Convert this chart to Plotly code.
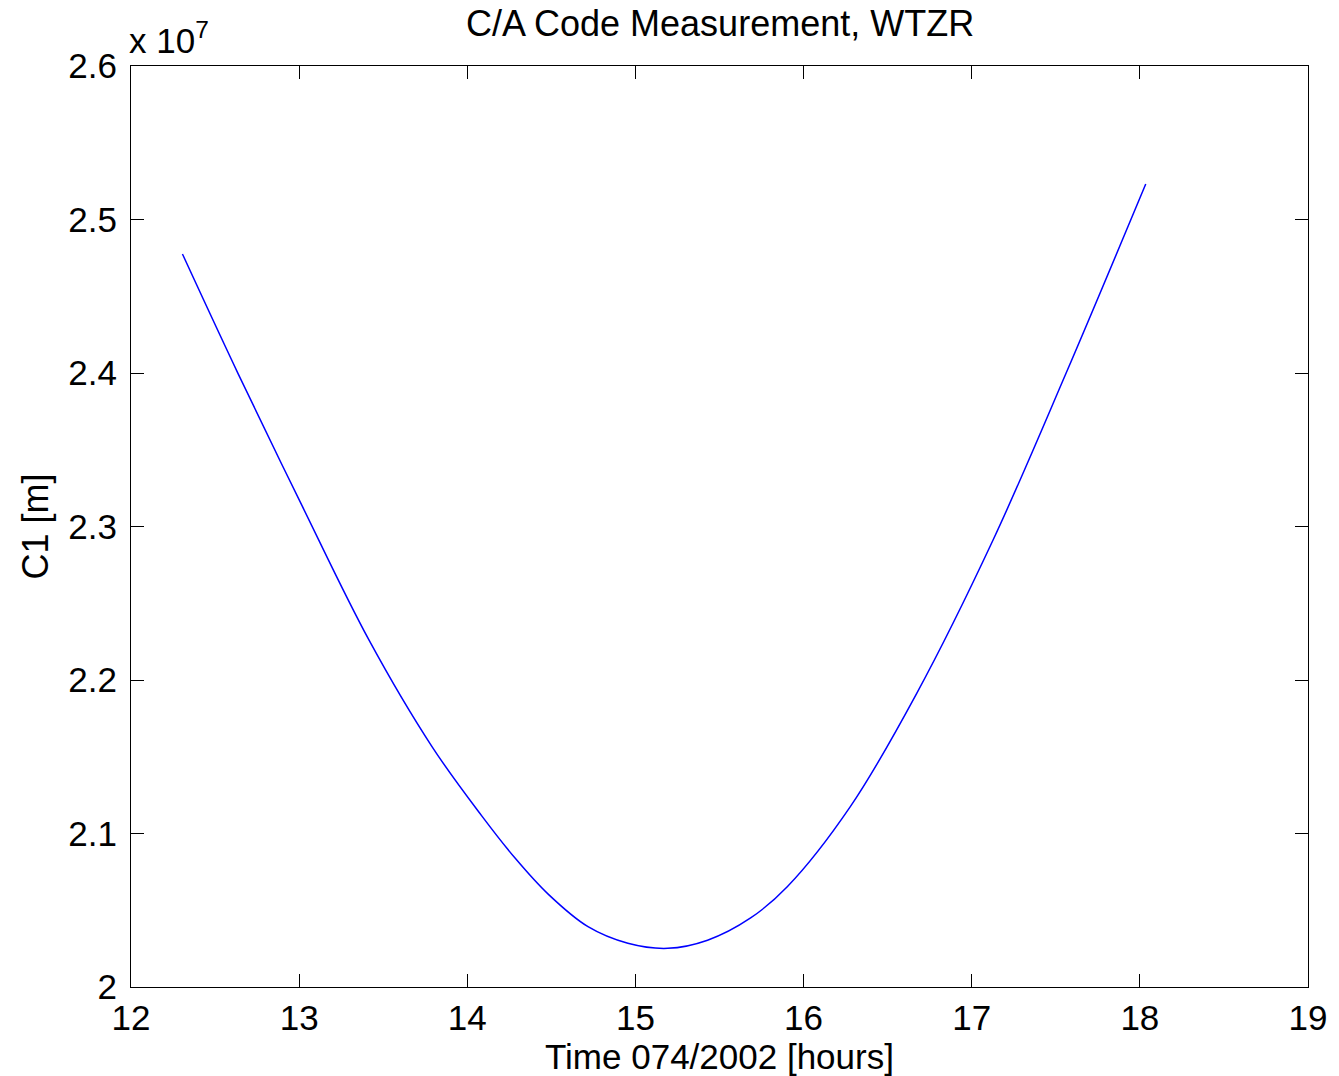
import plotly.graph_objects as go

# Time of day (hours, day 074/2002) and C/A code pseudorange C1 in metres
time_h = [12.306, 12.636, 13.020, 13.415, 13.790, 14.086, 14.284, 14.481, 14.718,
          14.955, 15.192, 15.429, 15.685, 15.903, 16.278, 16.673, 17.127, 17.561,
          18.035]
c1_m = [24775000, 23998000, 23129000, 22261000, 21566000, 21115000, 20840000,
        20605000, 20393000, 20285000, 20252000, 20305000, 20450000, 20653000,
        21175000, 21913000, 22912000, 23998000, 25231000]

x_ticks = [12, 13, 14, 15, 16, 17, 18, 19]
y_tickvals = [2.0e7, 2.1e7, 2.2e7, 2.3e7, 2.4e7, 2.5e7, 2.6e7]
y_ticktext = ["2", "2.1", "2.2", "2.3", "2.4", "2.5", "2.6"]

FONT = "Liberation Sans, Arial, sans-serif"

fig = go.Figure()
fig.add_trace(go.Scatter(
    x=time_h, y=c1_m, mode="lines",
    line=dict(color="#0000ff", width=1.5, shape="spline", smoothing=1.0),
    showlegend=False,
))

axis_common = dict(
    showline=True, linecolor="black", linewidth=1.2, mirror="ticks",
    ticks="inside", ticklen=13, tickwidth=1, tickcolor="black",
    showgrid=False, zeroline=False,
    tickfont=dict(family=FONT, size=35, color="black"),
)

fig.update_layout(
    width=1339, height=1076,
    margin=dict(l=131, r=26, t=66, b=89),
    paper_bgcolor="white", plot_bgcolor="white",
    xaxis=dict(range=[12, 19], tickvals=x_ticks, ticklabelstandoff=0, **axis_common),
    yaxis=dict(range=[2.0e7, 2.6e7], tickvals=y_tickvals, ticktext=y_ticktext,
               ticklabelstandoff=6, **axis_common),
    annotations=[
        dict(text="C/A Code Measurement, WTZR", x=0.5, y=1, xref="paper", yref="paper",
             xanchor="center", yanchor="bottom", yshift=20, showarrow=False,
             font=dict(family=FONT, size=36, color="black")),
        dict(text="Time 074/2002 [hours]", x=0.5, y=0, xref="paper", yref="paper",
             xanchor="center", yanchor="top", yshift=-48, showarrow=False,
             font=dict(family=FONT, size=35, color="black")),
        dict(text="C1 [m]", x=0, y=0.5, xref="paper", yref="paper", textangle=-90,
             xanchor="center", yanchor="middle", xshift=-96, showarrow=False,
             font=dict(family=FONT, size=36, color="black")),
        dict(text="x 10<sup>7</sup>", x=0, y=1, xref="paper", yref="paper",
             xanchor="left", yanchor="bottom", xshift=-4, yshift=4, showarrow=False,
             font=dict(family=FONT, size=35, color="black")),
    ],
)

fig.write_html("out.html")
